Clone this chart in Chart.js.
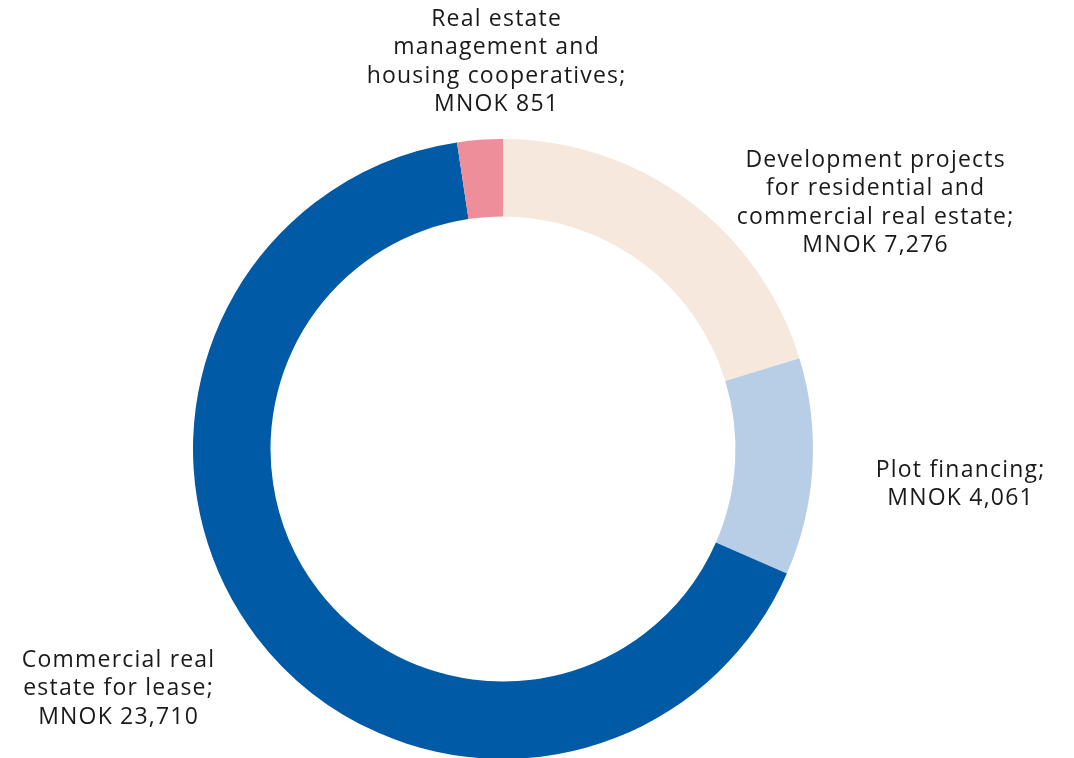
<!DOCTYPE html>
<html>
<head>
<meta charset="utf-8">
<script src="https://cdn.jsdelivr.net/npm/chart.js@4.4.1/dist/chart.umd.min.js"></script>
<style>
  html, body { margin: 0; padding: 0; background: #ffffff; overflow: hidden; }
  #wrap { position: relative; width: 1074px; height: 760px; }
</style>
</head>
<body>
<div id="wrap"><canvas id="chart"></canvas></div>
<script>
// Lending exposure by segment, MNOK
const categories = [
  'Development projects for residential and commercial real estate',
  'Plot financing',
  'Commercial real estate for lease',
  'Real estate management and housing cooperatives'
];
const values = [7276, 4061, 23710, 851];
const colors = ['#f6e8dc', '#b8cee6', '#005aa5', '#ee8e9b'];

// Label lines for each segment (text as printed next to the ring)
const labelLines = [
  ['Development projects', 'for residential and', 'commercial real estate;', 'MNOK 7,276'],
  ['Plot financing;', 'MNOK 4,061'],
  ['Commercial real', 'estate for lease;', 'MNOK 23,710'],
  ['Real estate', 'management and', 'housing cooperatives;', 'MNOK 851']
];
// Where each label block sits: centre x and first line centre y
const labelAnchors = [
  { x: 875, y: 160 },
  { x: 960, y: 470 },
  { x: 118, y: 660 },
  { x: 496, y: 19 }
];

const segmentLabels = {
  id: 'segmentLabels',
  afterDraw(chart) {
    const ctx = chart.ctx;
    ctx.save();
    ctx.fillStyle = '#1a1a1a';
    ctx.font = '400 23px "Open Sans", sans-serif';
    ctx.letterSpacing = '1.2px';
    ctx.textAlign = 'center';
    ctx.textBaseline = 'middle';
    const lh = 28.5;
    labelLines.forEach((lines, i) => {
      const a = labelAnchors[i];
      lines.forEach((t, j) => ctx.fillText(t, a.x + 0.6, a.y + j * lh));
    });
    ctx.restore();
  }
};

new Chart(document.getElementById('chart'), {
  type: 'doughnut',
  data: {
    labels: categories,
    datasets: [{
      data: values,
      backgroundColor: colors,
      borderWidth: 0,
      hoverOffset: 0
    }]
  },
  options: {
    responsive: true,
    maintainAspectRatio: false,
    animation: false,
    cutout: '75%',
    layout: { padding: { top: 139, bottom: 1, left: 0, right: 68 } },
    plugins: {
      legend: { display: false },
      tooltip: { enabled: false }
    }
  },
  plugins: [segmentLabels]
});
</script>
</body>
</html>
